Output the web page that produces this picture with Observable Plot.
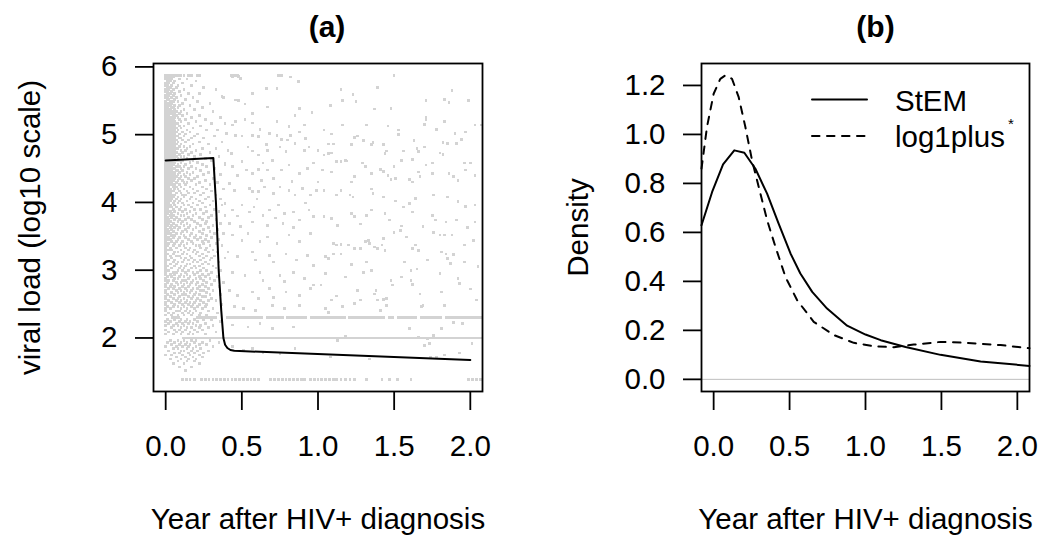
<!DOCTYPE html>
<html><head><meta charset="utf-8">
<script src="https://cdn.jsdelivr.net/npm/d3@7"></script>
<script src="https://cdn.jsdelivr.net/npm/@observablehq/plot@0.6"></script>
<style>
body{margin:0;background:#fff;}
#wrap{position:relative;width:1042px;height:539px;overflow:hidden;background:#fff;font-family:"Liberation Sans",Arial,Helvetica,sans-serif;}
#pa,#pb{position:absolute;top:0;}
#pa{left:0;} #pb{left:521px;}
#legend{position:absolute;left:0;top:0;pointer-events:none;}
</style></head><body>
<div id="wrap"><div id="pa"></div><div id="pb"></div>
<svg id="legend" width="1042" height="539"></svg></div>
<script>
const upperLimitY = 5.875;
const upperLimitX = [0,.006,.013,.02,.026,.033,.04,.046,.053,.06,.066,.073,.08,.09,.1,.12,.15,.17,.21,.22,.43,.45,.47,.74,.76,1.5];
const lowerLimitY = 1.39;
const lowerLimitX = [.11,.135,.16,.19,.235,.26,.285,.31,.335,.36,.385,.41,.435,.46,.485,.51,.535,.56,.585,.61,.69,.715,.74,.765,.79,.815,.84,.865,.89,.91,.95,.975,1.0,1.025,1.05,1.075,1.1,1.12,1.15,1.18,1.21,1.24,1.32,1.42,1.47,1.52,1.61,1.99,2.015,2.04,2.065];
// runs of observations sitting exactly on 2.3 and 2.0 (x from, x to)
const runs23 = [[0.04,0.1],[0.2,0.34],[0.4,0.64],[0.66,0.78],[0.79,0.93],[0.95,1.19],[1.2,1.44],[1.46,1.5],[1.52,1.65],[1.67,1.82],[1.84,2.08]];
const runs20 = [[0.11,2.08]];
// early observations (first ~0.4 year): [log10 VL, [years...]]
const earlyRows = [
[5.85,[0,.01,.03,.05]],[5.82,[0,.02,.04,.09,.14]],[5.79,[.01,.03,.06,.2]],[5.76,[0,.02,.05,.11]],
[5.73,[0,.01,.04,.08,.17]],[5.70,[.01,.03,.07,.25]],[5.67,[0,.02,.05,.12,.33]],[5.64,[0,.01,.04,.09]],
[5.61,[.01,.03,.06,.15,.22]],[5.58,[0,.02,.05,.1]],[5.55,[0,.01,.04,.07,.18,.38]],[5.52,[.01,.02,.06,.13]],
[5.49,[0,.03,.05,.08,.21]],[5.46,[0,.01,.02,.04,.11,.29]],[5.43,[0,.02,.03,.06,.09,.16]],[5.40,[0,.01,.04,.05,.08,.24]],
[5.37,[0,.02,.03,.06,.12,.19]],[5.34,[0,.01,.03,.05,.07,.1,.31]],[5.31,[0,.02,.04,.06,.09,.14]],[5.28,[0,.01,.02,.05,.07,.11,.22]],
[5.25,[0,.01,.03,.04,.06,.08,.17,.36]],[5.22,[0,.02,.03,.05,.09,.13,.26]],[5.19,[0,.01,.02,.04,.06,.1,.2]],[5.16,[0,.01,.03,.05,.07,.08,.15,.3]],
[5.13,[0,.02,.04,.06,.09,.12,.23]],[5.10,[0,.01,.02,.03,.05,.07,.1,.18]],[5.07,[0,.01,.03,.04,.06,.08,.14,.27,.34]],[5.04,[0,.02,.03,.05,.07,.11,.16]],
[5.01,[0,.01,.02,.04,.06,.09,.13,.21]],[4.98,[0,.01,.03,.05,.07,.08,.12,.19,.32]],[4.95,[0,.02,.04,.06,.09,.1,.17,.25]],[4.92,[0,.01,.02,.03,.05,.07,.11,.15]],
[4.89,[0,.01,.03,.04,.06,.08,.13,.22,.37]],[4.86,[0,.02,.03,.05,.07,.1,.18,.28]],[4.83,[0,.01,.02,.04,.06,.09,.12,.16]],[4.80,[0,.01,.03,.05,.07,.08,.14,.24,.33]],
[4.77,[0,.02,.04,.05,.06,.1,.13,.2]],[4.74,[0,.01,.02,.03,.05,.07,.11,.17,.29]],[4.71,[0,.01,.03,.04,.06,.09,.15,.23]],[4.68,[0,.02,.03,.05,.07,.1,.12,.19,.35]],
[4.65,[0,.01,.02,.04,.06,.08,.14,.26]],[4.62,[0,.01,.03,.05,.07,.09,.11,.18,.3]],[4.59,[0,.02,.04,.05,.06,.1,.16,.21]],[4.56,[0,.01,.02,.03,.05,.08,.13,.24,.39]],
[4.53,[0,.01,.03,.04,.07,.09,.12,.17,.27]],[4.50,[0,.02,.03,.05,.06,.1,.15,.2,.32]],[4.47,[0,.01,.02,.04,.07,.08,.11,.23]],[4.44,[0,.01,.03,.05,.06,.09,.14,.18,.28]],
[4.41,[0,.02,.04,.06,.08,.12,.16,.25,.36]],[4.38,[0,.01,.03,.05,.07,.1,.13,.21]],[4.35,[0,.01,.02,.04,.06,.09,.15,.19,.31]],[4.32,[0,.02,.03,.05,.08,.11,.17,.26]],
[4.29,[0,.01,.03,.04,.07,.12,.14,.22,.34]],[4.26,[0,.02,.04,.06,.09,.13,.2,.29]],[4.23,[0,.01,.02,.05,.07,.1,.16,.24]],[4.20,[0,.01,.03,.06,.08,.12,.18,.27,.38]],
[4.17,[0,.02,.04,.05,.09,.14,.21,.3]],[4.14,[0,.01,.03,.07,.1,.15,.19,.25]],[4.11,[0,.02,.04,.06,.11,.13,.23,.33]],[4.08,[0,.01,.03,.05,.08,.12,.17,.28]],
[4.05,[0,.02,.04,.07,.1,.16,.2,.26,.36]],[4.02,[0,.01,.03,.06,.09,.14,.22,.31]],[3.99,[0,.02,.05,.08,.11,.18,.24]],[3.96,[0,.01,.03,.06,.12,.15,.21,.29,.37]],
[3.93,[0,.02,.04,.07,.1,.17,.26]],[3.90,[0,.01,.05,.09,.13,.19,.23,.32]],[3.87,[0,.02,.03,.06,.11,.16,.27,.35]],[3.84,[0,.01,.04,.08,.14,.2,.25]],
[3.81,[0,.03,.05,.1,.12,.18,.3,.39]],[3.78,[0,.01,.04,.07,.15,.22,.28]],[3.75,[0,.02,.06,.09,.13,.17,.24,.33]],[3.72,[0,.01,.03,.08,.11,.19,.27]],
[3.69,[0,.02,.05,.1,.14,.21,.26,.36]],[3.66,[0,.01,.04,.07,.12,.16,.23,.31]],[3.63,[0,.03,.06,.09,.15,.2,.28]],[3.60,[0,.01,.04,.08,.13,.18,.25,.34]],
[3.57,[0,.02,.05,.11,.14,.22,.29]],[3.54,[0,.01,.03,.07,.1,.17,.24,.32,.38]],[3.51,[0,.04,.06,.12,.16,.2,.27]],[3.48,[0,.02,.05,.09,.13,.19,.23,.3]],
[3.45,[0,.01,.03,.08,.15,.21,.26,.35]],[3.42,[0,.04,.07,.11,.17,.24,.28]],[3.39,[0,.02,.06,.1,.14,.18,.25,.33]],[3.36,[0,.01,.05,.09,.12,.2,.22,.29,.37]],
[3.33,[0,.03,.07,.13,.16,.23,.27]],[3.30,[0,.02,.04,.1,.15,.19,.26,.31]],[3.27,[0,.06,.08,.12,.18,.21,.28,.34]],[3.24,[0,.01,.05,.11,.14,.2,.24]],
[3.21,[0,.03,.07,.09,.16,.22,.27,.32]],[3.18,[0,.04,.1,.13,.17,.25,.3,.39]],[3.15,[0,.02,.06,.12,.15,.19,.23,.29]],[3.12,[0,.05,.08,.11,.18,.21,.26,.35]],
[3.09,[0,.03,.07,.14,.16,.24,.28]],[3.06,[0,.01,.06,.1,.13,.19,.22,.31]],[3.03,[0,.04,.09,.12,.17,.2,.25,.33]],[3.00,[0,.02,.08,.11,.15,.23,.27,.36]],
[2.97,[0,.05,.07,.13,.18,.21,.3]],[2.94,[0,.03,.06,.1,.14,.19,.24,.28]],[2.91,[.01,.04,.09,.12,.16,.22,.26,.34]],[2.88,[0,.06,.08,.15,.2,.23,.29]],
[2.85,[0,.02,.05,.11,.13,.18,.25,.32]],[2.82,[.01,.07,.1,.14,.17,.21,.27,.38]],[2.79,[0,.04,.08,.12,.16,.2,.24,.3]],[2.76,[0,.03,.06,.11,.15,.22,.26,.35]],
[2.73,[.02,.05,.09,.13,.18,.21,.28]],[2.70,[0,.07,.1,.14,.17,.23,.25,.31]],[2.67,[0,.04,.08,.12,.16,.2,.27]],[2.64,[.01,.06,.11,.13,.19,.22,.29,.36]],
[2.61,[0,.03,.09,.15,.18,.24,.26]],[2.58,[0,.05,.08,.12,.17,.21,.3]],[2.55,[.02,.07,.1,.14,.2,.23,.28,.33]],[2.52,[0,.04,.09,.13,.16,.19,.25]],
[2.49,[0,.06,.11,.15,.18,.22,.27,.37]],[2.46,[.01,.05,.08,.12,.17,.21,.26]],[2.43,[0,.03,.1,.14,.19,.24,.31]],[2.40,[0,.07,.09,.13,.16,.2,.28]],
[2.37,[.02,.05,.11,.15,.18,.23,.34]],[2.34,[0,.04,.08,.12,.17,.22,.27]],[2.27,[.01,.06,.1,.14,.19,.25,.3]],[2.24,[0,.03,.09,.13,.16,.21,.36]],
[2.21,[.02,.07,.11,.15,.18,.26]],[2.18,[0,.05,.08,.12,.2,.23,.31]],[2.15,[.04,.1,.14,.17,.22,.28]],[2.12,[0,.06,.09,.13,.19,.24]],
[2.09,[.02,.07,.11,.16,.21,.33]],[2.06,[0,.05,.1,.15,.18,.26]],[1.96,[.03,.08,.12,.17,.2,.29]],[1.93,[.01,.06,.1,.14,.19,.24,.35]],
[1.90,[.04,.09,.13,.16,.22,.27]],[1.87,[0,.07,.11,.15,.2,.31]],[1.84,[.05,.08,.14,.18,.23]],[1.81,[.02,.1,.12,.17,.21,.28]],
[1.78,[.06,.09,.15,.19,.25]],[1.75,[0,.04,.11,.16,.22]],[1.72,[.07,.13,.18,.24]],[1.69,[.03,.1,.15,.2]],
[1.66,[.08,.14,.19]],[1.62,[.05,.12,.22]],[1.57,[.09,.17]],[1.52,[.13]]
];
// later observations: [year, log10 VL]
const laterPts = [
[0.44,5.86],[0.48,5.86],[0.49,5.83],[0.66,5.68],[0.73,5.68],[0.82,5.85],[0.87,5.78],[0.57,5.61],[0.46,5.51],[0.48,5.5],[0.37,5.56],[0.67,5.41],[0.88,5.39],[0.57,5.31],[0.52,5.45],[0.85,5.28],[0.96,5.33],
[0.39,5.16],[0.44,5.14],[0.46,5.19],[0.52,5.22],[0.57,5.17],[0.73,5.19],[0.81,5.12],[0.91,5.14],[0.62,5.08],[0.4,5.02],[0.37,4.89],[0.46,4.99],[0.5,4.98],[0.57,4.99],[0.61,4.97],[0.68,5.02],[0.73,4.99],[0.76,4.93],[0.82,4.99],[0.88,5.04],[0.92,4.94],[0.8,4.92],
[0.41,4.77],[0.43,4.72],[0.54,4.82],[0.57,4.76],[0.61,4.7],[0.66,4.85],[0.67,4.77],[0.75,4.82],[0.79,4.75],[0.85,4.87],[0.91,4.77],[0.94,4.82],[0.7,4.62],
[0.39,4.58],[0.44,4.53],[0.5,4.6],[0.53,4.48],[0.57,4.43],[0.61,4.49],[0.64,4.58],[0.67,4.48],[0.71,4.35],[0.76,4.48],[0.81,4.55],[0.88,4.43],[0.93,4.5],[0.97,4.58],[0.47,4.4],[0.63,4.32],[0.83,4.31],
[0.55,4.21],[0.57,4.16],[0.61,4.16],[0.65,4.23],[0.42,4.28],[0.45,4.18],[0.71,4.13],[0.75,4.23],[0.81,4.18],[0.85,4.11],[0.9,4.21],[0.95,4.11],[0.99,4.18],[0.6,4.05],[0.92,3.99],
[0.39,3.98],[0.44,3.89],[0.5,3.96],[0.55,3.86],[0.58,3.93],[0.64,3.81],[0.68,3.89],[0.74,3.96],[0.78,3.84],[0.84,3.86],[0.88,3.74],[0.94,3.89],[0.97,3.79],[0.72,3.77],[0.47,3.8],
[0.42,3.69],[0.49,3.64],[0.57,3.71],[0.67,3.66],[0.77,3.69],[0.84,3.63],
[1.5,5.87],[1.15,5.67],[1.39,5.7],[1.23,5.59],[1.25,5.49],[1.16,5.5],[1.88,5.65],[1.83,5.52],[1.86,5.47],[1.99,5.5],[1.71,5.5],[1.08,5.43],[1.37,5.38],[1.48,5.39],[1.71,5.26],[1.71,5.22],[1.83,5.19],
[2.03,5.14],[2.07,5.14],[1.16,5.14],[1.32,5.14],[1.46,5.13],[1.7,5.15],[1.78,5.08],[1.9,5.02],[1.97,5.04],[1.04,5.07],[1.09,5.01],[1.24,4.96],[1.26,4.98],[1.53,5.07],[1.53,5.0],
[1.36,4.88],[1.35,4.85],[1.3,4.91],[1.22,4.85],[1.07,4.86],[1.1,4.86],[1.0,4.77],[1.04,4.7],[1.07,4.72],[1.09,4.73],[1.43,4.85],[1.45,4.76],[1.44,4.72],[1.56,4.76],[1.63,4.91],[1.65,4.8],[1.66,4.75],[1.7,4.82],[1.82,4.88],[1.85,4.87],[1.91,4.87],[1.94,4.93],[1.8,4.73],[1.82,4.71],
[1.62,4.63],[1.75,4.58],[1.55,4.62],[1.5,4.53],[1.41,4.49],[1.43,4.46],[1.46,4.4],[1.48,4.34],[1.51,4.35],[1.12,4.6],[1.15,4.6],[1.18,4.62],[1.19,4.61],[1.29,4.58],[1.31,4.53],[1.35,4.43],[1.24,4.38],[1.22,4.3],[1.03,4.48],[1.09,4.45],
[1.6,4.34],[1.62,4.3],[1.66,4.45],[1.67,4.38],[1.71,4.55],[1.75,4.43],[1.86,4.43],[1.89,4.38],[1.92,4.32],[1.96,4.58],[2.0,4.58],[1.97,4.48],[2.03,4.4],
[1.0,4.3],[1.04,4.18],[1.12,4.11],[1.15,4.18],[1.21,4.11],[1.23,4.08],[1.35,4.2],[1.36,4.13],[1.43,4.08],[1.51,4.02],[1.6,3.98],[1.64,4.06],[1.76,4.11],[1.85,4.08],[1.92,4.01],[1.97,3.94],[2.03,3.96],
[1.04,3.79],[1.09,3.76],[1.22,3.84],[1.24,3.79],[1.35,3.89],[1.32,3.81],[1.44,3.84],[1.47,3.74],[1.56,3.93],[1.62,3.86],[1.75,3.81],[1.77,3.74],[1.84,3.71],[1.91,3.74],[2.03,3.71],[1.13,3.66],[1.28,3.68],[1.55,3.65],[1.69,3.64],[1.98,3.63],
[0.44,3.52],[0.5,3.44],[0.54,3.54],[0.62,3.42],[0.67,3.49],[0.73,3.39],[0.81,3.52],[0.88,3.42],[0.95,3.54],[0.41,3.27],[0.47,3.2],[0.57,3.27],[0.59,3.15],[0.68,3.22],[0.71,3.12],[0.79,3.24],[0.86,3.15],[0.93,3.22],[0.97,3.07],
[0.44,2.97],[0.52,2.92],[0.62,2.97],[0.64,2.85],[0.75,2.92],[0.78,2.83],[0.84,2.97],[0.91,2.88],[0.97,2.78],[0.42,2.7],[0.47,2.63],[0.57,2.68],[0.61,2.58],[0.68,2.73],[0.71,2.6],[0.79,2.68],[0.88,2.63],[0.95,2.73],
[0.45,2.46],[0.51,2.43],[0.59,2.41],[0.7,2.48],[0.78,2.43],[0.88,2.48],[0.44,2.19],[0.54,2.16],[0.62,2.21],[0.7,2.14],[0.84,2.16],[0.44,1.87],[0.51,1.82],[0.57,1.84],[0.64,1.79],[0.75,1.77],[0.85,1.84],
[1.1,3.39],[1.12,3.37],[1.15,3.38],[1.2,3.37],[1.24,3.32],[1.05,3.2],[1.07,3.17],[1.1,3.24],[1.15,3.24],[1.31,3.42],[1.34,3.39],[1.33,3.44],[1.37,3.34],[1.39,3.32],[1.44,3.29],[1.28,3.32],[1.32,3.12],[1.35,3.0],[1.3,2.97],
[1.43,3.47],[1.42,3.37],[1.5,3.56],[1.54,3.59],[1.58,3.49],[1.62,3.32],[1.66,3.29],[1.64,3.37],[1.57,3.12],[1.61,3.0],[1.65,3.02],[1.76,3.56],[1.8,3.52],[1.83,3.52],[1.88,3.52],[1.81,3.27],[1.84,3.24],[1.89,3.23],[1.96,3.37],
[1.85,3.17],[1.87,3.1],[1.8,2.95],[1.92,2.88],[1.93,2.8],[2.02,3.44],[1.96,3.12],[1.05,2.95],[1.18,2.9],[1.22,3.08],[2.0,2.72],[2.05,3.05],[1.72,3.15],[1.55,2.9],[1.26,2.7],[1.12,2.62],
[1.02,2.78],[1.09,2.56],[1.16,2.46],[1.05,2.43],[1.07,2.38],[1.24,2.51],[1.28,2.56],[1.38,2.7],[1.37,2.65],[1.39,2.56],[1.43,2.57],[1.45,2.58],[1.45,2.48],[1.48,2.85],[1.49,2.78],[1.41,2.41],
[1.61,2.85],[1.62,2.79],[1.67,2.65],[1.69,2.48],[1.68,2.46],[1.81,2.68],[1.83,2.48],[2.04,2.56],[1.89,2.23],[1.95,2.21],[1.6,2.14],[1.81,2.14],[1.18,2.03],[1.66,2.01],[1.72,1.99],[1.76,2.04],
[1.73,1.92],[1.7,1.89],[2.01,1.92],[1.08,1.72],[1.34,1.69],[1.74,1.72],[1.78,1.72],[1.83,1.75],[1.93,1.78],[1.13,1.96]
];
// fitted mean trajectory
const fitX = [0, 0.313, 0.33, 0.348, 0.365, 0.379, 0.39, 0.405, 0.425, 0.45, 2.0];
const fitY = [4.62, 4.655, 4.0, 3.0, 2.4, 2.0, 1.9, 1.852, 1.822, 1.81, 1.675];

// ---------- Panel (b): densities ----------
const stemX = [-0.08, -0.01, 0.062, 0.136, 0.202, 0.275, 0.352, 0.428, 0.506, 0.571, 0.649, 0.747, 0.879, 1.0, 1.1, 1.264, 1.494, 1.758, 2.08];
const stemY = [0.629, 0.765, 0.878, 0.935, 0.925, 0.860, 0.758, 0.636, 0.514, 0.432, 0.357, 0.289, 0.219, 0.183, 0.160, 0.132, 0.100, 0.073, 0.055];
const logX = [-0.08, -0.044, 0, 0.044, 0.077, 0.121, 0.165, 0.209, 0.253, 0.308, 0.352, 0.407, 0.473, 0.55, 0.659, 0.791, 0.923, 1.055, 1.187, 1.318, 1.494, 1.67, 1.89, 2.08];
const logY = [0.86, 1.03, 1.166, 1.227, 1.241, 1.227, 1.152, 1.03, 0.894, 0.758, 0.65, 0.541, 0.418, 0.323, 0.235, 0.181, 0.149, 0.135, 0.131, 0.142, 0.153, 0.149, 0.14, 0.127];

const xTicks = [0, 0.5, 1, 1.5, 2];
const yTicksA = [2, 3, 4, 5, 6];
const yTicksB = [0, 0.2, 0.4, 0.6, 0.8, 1.0, 1.2];
const titles = ["(a)", "(b)"];
const xLabel = "Year after HIV+ diagnosis";
const yLabels = ["viral load (log10 scale)", "Density"];
const legendNames = ["StEM", "log1plus"];

// ---------- build ----------
const FONT = '"Liberation Sans", Arial, Helvetica, sans-serif';
const FS = 29.5;
const GRAY = "#d3d3d3";

const obs = earlyRows.flatMap(([y, xs]) => xs.map(x => ({x, y})))
  .concat(laterPts.map(([x, y]) => ({x, y})))
  .concat(upperLimitX.map(x => ({x, y: upperLimitY})))
  .concat(lowerLimitX.map(x => ({x, y: lowerLimitY})));
const runs = runs23.map(([x1, x2]) => ({y: 2.3, x1, x2}))
  .concat(runs20.map(([x1, x2]) => ({y: 2.0, x1, x2})));
const fit = fitX.map((x, i) => ({x, y: fitY[i]}));
const stem = stemX.map((x, i) => ({x, y: stemY[i]}));
const logp = logX.map((x, i) => ({x, y: logY[i]}));

function common(ticksY, fmtY, title, ylab, dxTitle) {
  return [
    Plot.frame({stroke: "black", strokeWidth: 1.8}),
    Plot.axisX({ticks: xTicks, tickFormat: d3.format(".1f"), tickSize: 19, tickPadding: 25, fontSize: FS, label: null, strokeWidth: 1.8}),
    Plot.axisY({ticks: ticksY, tickFormat: fmtY, tickSize: 18, tickPadding: 18, fontSize: FS, label: null, strokeWidth: 1.8}),
    Plot.text([title], {text: d => d, frameAnchor: "top", textAnchor: "middle", lineAnchor: "bottom", dx: dxTitle, dy: -27, fontWeight: "bold", fontSize: 30}),
    Plot.text([xLabel], {text: d => d, frameAnchor: "bottom", textAnchor: "middle", lineAnchor: "bottom", dy: 137, fontSize: FS}),
    Plot.text([ylab], {text: d => d, frameAnchor: "left", textAnchor: "middle", lineAnchor: "middle", rotate: -90, dx: -122.7, fontSize: FS})
  ];
}

const plotA = Plot.plot({
  width: 521, height: 539,
  marginLeft: 153, marginRight: 39, marginTop: 63, marginBottom: 148,
  style: {fontFamily: FONT, fontSize: FS + "px", background: "white", color: "black", overflow: "visible"},
  x: {domain: [-0.08, 2.08], label: null},
  y: {domain: [1.21, 6.05], label: null},
  marks: [
    Plot.dot(obs, {x: "x", y: "y", r: 1.5, symbol: "square", fill: GRAY, shapeRendering: "crispEdges"}),
    Plot.ruleY(runs, {y: "y", x1: "x1", x2: "x2", stroke: GRAY, strokeWidth: 2.6, shapeRendering: "crispEdges"}),
    Plot.line(fit, {x: "x", y: "y", stroke: "black", strokeWidth: 2}),
    ...common(yTicksA, d3.format("d"), titles[0], yLabels[0], 9)
  ]
});
document.getElementById("pa").append(plotA);

const plotB = Plot.plot({
  width: 521, height: 539,
  marginLeft: 180, marginRight: 13, marginTop: 63, marginBottom: 148,
  style: {fontFamily: FONT, fontSize: FS + "px", background: "white", color: "black", overflow: "visible"},
  x: {domain: [-0.08, 2.08], label: null},
  y: {domain: [-0.0496, 1.2896], label: null},
  marks: [
    Plot.ruleY([0], {stroke: "#bebebe", strokeWidth: 1}),
    Plot.line(stem, {x: "x", y: "y", stroke: "black", strokeWidth: 2}),
    Plot.line(logp, {x: "x", y: "y", stroke: "black", strokeWidth: 2, strokeDasharray: "7.5,7.5"}),
    ...common(yTicksB, d3.format(".1f"), titles[1], yLabels[1], 10)
  ]
});
document.getElementById("pb").append(plotB);

// legend (top right of panel b)
const lg = d3.select("#legend");
const rowsL = [{name: legendNames[0], dash: null, ly: 99.5, ty: 110.5},
               {name: legendNames[1], dash: "7.5,7.5", ly: 136, ty: 146.5}];
rowsL.forEach(r => {
  lg.append("line").attr("x1", 812).attr("x2", 867).attr("y1", r.ly).attr("y2", r.ly)
    .attr("stroke", "black").attr("stroke-width", 2).attr("stroke-linecap", "round")
    .attr("stroke-dasharray", r.dash);
  lg.append("text").attr("x", 895).attr("y", r.ty).attr("font-family", FONT)
    .attr("font-size", FS).text(r.name);
});
lg.append("text").attr("x", 1008).attr("y", 129).attr("font-family", FONT)
  .attr("font-size", 15).text("*");
</script>
</body></html>
